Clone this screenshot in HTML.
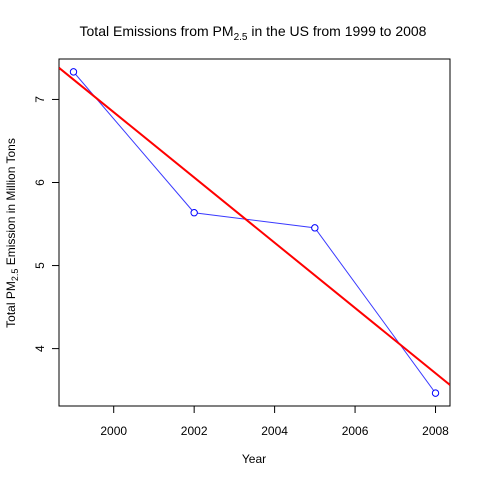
<!DOCTYPE html>
<html><head><style>
body{margin:0;background:#fff}
text{font-family:"Liberation Sans",Arial,sans-serif;fill:#000}
</style></head><body>
<svg id="chart" width="480" height="480" viewBox="0 0 480 480" xmlns="http://www.w3.org/2000/svg">
<rect width="480" height="480" fill="#fff"/>
<text x="253" y="36" font-size="14" text-anchor="middle">Total Emissions from PM<tspan font-size="10" dy="4">2.5</tspan><tspan dy="-4"> in the US from 1999 to 2008</tspan></text>
<text x="254" y="463" font-size="12" text-anchor="middle">Year</text>
<text transform="translate(15,233) rotate(-90)" font-size="12" text-anchor="middle">Total PM<tspan font-size="9" dy="3">2.5</tspan><tspan dy="-3"> Emission in Million Tons</tspan></text>
<g id="g"></g>
</svg>
<script>
const years=[1999,2002,2005,2008];
const emissions=[7.332,5.636,5.454,3.464];
const xTicks=[2000,2002,2004,2006,2008];
const yTicks=[4,5,6,7];
const L=59,R=450,T=59,B=406;
const xmin=1998.64,xmax=2008.36,ymin=3.309,ymax=7.487;
const sx=v=>L+(v-xmin)/(xmax-xmin)*(R-L);
const sy=v=>B-(v-ymin)/(ymax-ymin)*(B-T);
const NS="http://www.w3.org/2000/svg",g=document.getElementById('g');
function mk(t,a){const e=document.createElementNS(NS,t);for(const k in a)e.setAttribute(k,a[k]);g.appendChild(e);return e;}
const box=mk('rect',{x:L,y:T,width:R-L,height:B-T,fill:'none',stroke:'#000','stroke-width':1});


xTicks.forEach(v=>{const x=sx(v);
const t=mk('line',{x1:x,x2:x,y1:B,y2:B+7,stroke:'#000'});


const l=mk('text',{x:x,y:435,'font-size':12,'text-anchor':'middle'});l.textContent=v;

});
yTicks.forEach(v=>{const y=sy(v);
const t=mk('line',{x1:L-7,x2:L,y1:y,y2:y,stroke:'#000'});


const l=mk('text',{transform:`translate(44,${y}) rotate(-90)`,'font-size':12,'text-anchor':'middle'});l.textContent=v;

});
const pl=mk('polyline',{points:years.map((y,i)=>sx(y)+','+sy(emissions[i])).join(' '),fill:'none',stroke:'#3a3aff','stroke-width':1});


years.forEach((y,i)=>{const c=mk('circle',{cx:sx(y),cy:sy(emissions[i]),r:3.2,fill:'#fff',stroke:'#0000ff'});

});
const n=years.length,mx=years.reduce((a,b)=>a+b)/n,my=emissions.reduce((a,b)=>a+b)/n;
let sxy=0,sxx=0;years.forEach((x,i)=>{sxy+=(x-mx)*(emissions[i]-my);sxx+=(x-mx)**2;});
const b=sxy/sxx,a=my-b*mx;
const cp=mk('clipPath',{id:'cp'});
const cr=document.createElementNS(NS,'rect');
cr.setAttribute('x',L);cr.setAttribute('y',T);cr.setAttribute('width',R-L);cr.setAttribute('height',B-T);
cp.appendChild(cr);
const rl=mk('line',{x1:sx(xmin),y1:sy(a+b*xmin),x2:sx(xmax),y2:sy(a+b*xmax),stroke:'#ff0000','stroke-width':2,'clip-path':'url(#cp)'});


</script>
</body></html>
